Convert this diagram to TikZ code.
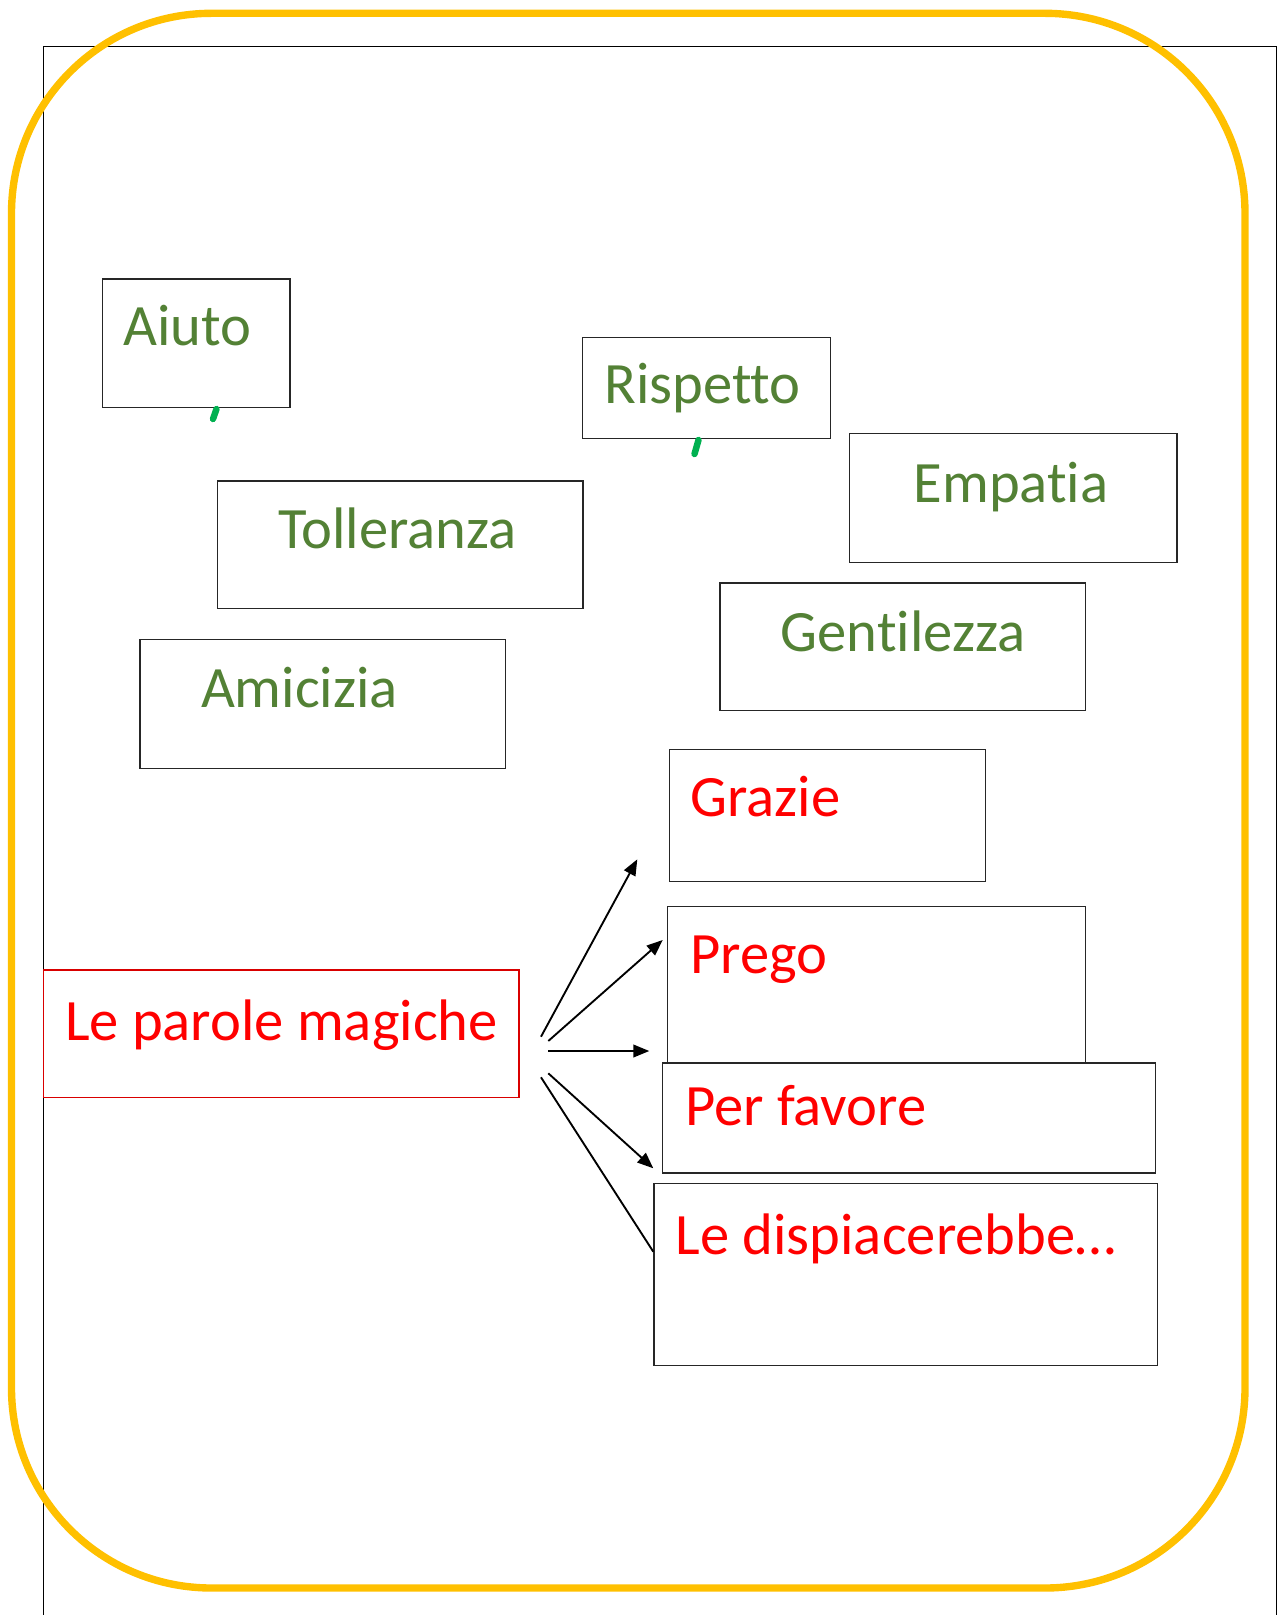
\documentclass[tikz,border=0pt]{standalone}
\usepackage{fontspec}
\setmainfont[RawFeature={-liga;-clig;-dlig}]{Carlito}
\usetikzlibrary{fit,arrows.meta}
\definecolor{wordgreen}{HTML}{538135}
\definecolor{wordred}{HTML}{FF0000}
\definecolor{gold}{HTML}{FFC000}
\definecolor{markgreen}{HTML}{00B050}
\tikzset{
  wbox/.style={draw=black!85, line width=1.2pt, inner sep=0pt},
  rbox/.style={draw=wordred!85!black, line width=0.9pt, inner sep=0pt},
  gtext/.style={text=wordgreen, font=\fontsize{50}{60}\selectfont, anchor=base west, inner sep=0pt},
  rtext/.style={text=wordred, font=\fontsize{50}{60}\selectfont, anchor=base west, inner sep=0pt},
  conn/.style={line width=1.6pt, -{Triangle[length=0.48cm, width=0.38cm]}},
  plainconn/.style={line width=1.6pt},
  gmark/.style={draw=markgreen, line width=5.5pt, line cap=round},
  frame/.style={draw=black, line width=1.1pt},
  outer/.style={draw=gold, line width=6.3pt, rounded corners=6cm}
}
\begin{document}
\begin{tikzpicture}[x=0.03cm, y=-0.03cm]
\useasboundingbox (0,0) rectangle (1277,1615);
% page frame
\begin{scope}
\clip (0,0) rectangle (1277,1615);
\draw[frame] (43.3,1640) -- (43.3,46.7) -- (1276.5,46.7) -- (1276.5,1640);
\end{scope}
% outer rounded frame
\draw[outer] (11.5,13.3) rectangle (1245,1588);

% green words
\node[wbox, fit={(102.3,279) (290,407.3)}] (aiuto) {};
\node[gtext] (taiuto) at (123,345) {Aiuto};
\node[wbox, fit={(582.7,337.3) (830.7,438.3)}] (rispetto) {};
\node[gtext] (trispetto) at (604,403) {Rispetto};
\node[wbox, fit={(217.3,481) (582.9,608.6)}] (tolleranza) {};
\node[gtext] (ttolleranza) at (278,548) {Tolleranza};
\node[wbox, fit={(140,639.5) (505.6,768.2)}] (amicizia) {};
\node[gtext] (tamicizia) at (200.8,707.5) {Amicizia};
\node[wbox, fit={(849.6,433.5) (1177,562.3)}] (empatia) {};
\node[gtext] (tempatia) at (913.4,502.5) {Empatia};
\node[wbox, fit={(719.8,582.9) (1085.4,710.6)}] (gentilezza) {};
\node[gtext] (tgentilezza) at (780.6,651) {Gentilezza};

% green marks
\coordinate (ma1) at (216.5,409);
\coordinate (ma2) at (213,419);
\coordinate (mr1) at (698.5,440);
\coordinate (mr2) at (694.5,454);
\draw[gmark] (ma1) -- (ma2);
\draw[gmark] (mr1) -- (mr2);

% red words
\node[wbox, fit={(669.4,749.7) (985.5,881.5)}] (grazie) {};
\node[rtext] (tgrazie) at (690,816.6) {Grazie};
\node[wbox, fit={(667.3,906.2) (1085.4,1062.8)}] (prego) {};
\node[rtext] (tprego) at (690,973) {Prego};
\node[wbox, fill=white, fit={(662.2,1062.8) (1155.4,1173)}] (favore) {};
\node[rtext] (tfavore) at (684.8,1125.6) {Per favore};
\node[wbox, fit={(654,1183.2) (1157.5,1365.5)}] (dispiace) {};
\node[rtext] (tdispiace) at (675.5,1254.3) {Le dispiacerebbe…};

\node[rbox, fit={(43.3,970) (519,1097.8)}] (parole) {};
\node[rtext] (tparole) at (64.9,1040) {Le parole magiche};

% arrows
\coordinate (s1) at (541,1036.7);
\coordinate (s2) at (548.3,1041);
\coordinate (s3) at (548.3,1051);
\coordinate (s4) at (548.3,1073.3);
\coordinate (s5) at (541,1077.3);
\coordinate (e1) at (637.3,859.3);
\coordinate (e2) at (662.7,940);
\coordinate (e3) at (649.3,1051);
\coordinate (e4) at (653.3,1168.3);
\coordinate (e5) at (dispiace.west |- 0,1251.7);
\draw[conn] (s1) -- (e1);
\draw[conn] (s2) -- (e2);
\draw[conn] (s3) -- (e3);
\draw[conn] (s4) -- (e4);
\draw[plainconn] (s5) -- (e5);
\end{tikzpicture}
\end{document}
